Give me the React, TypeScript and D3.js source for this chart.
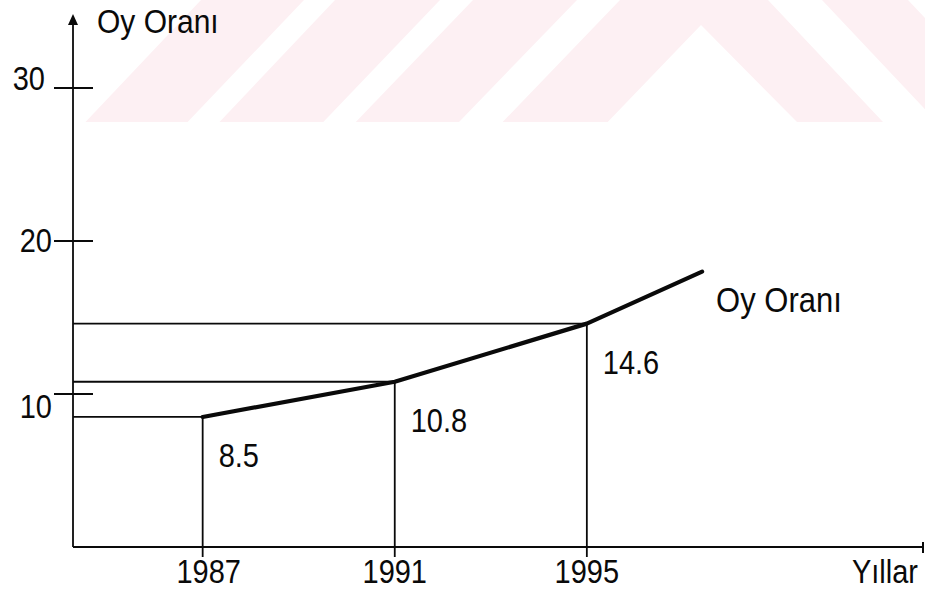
import React from "react";
import * as d3 from "d3";

// ---- data ----
const years = [1987, 1991, 1995];
const voteShare = [8.5, 10.8, 14.6];
const trendEnd = { year: 1997.4, value: 18 };
const yTicks = [10, 20, 30];
const yAxisTitle = "Oy Oranı";
const seriesLabel = "Oy Oranı";
const xAxisTitle = "Yıllar";

// ---- layout / style ----
const W = 925;
const H = 592;
const FONT = "'Liberation Sans', Arial, Helvetica, sans-serif";
const INK = "#0a0a0a";
const PINK = "#fdf0f3";
const tickLabelNudge = [24, 11, 2]; // baseline offsets for 10, 20, 30
const yearLabelNudge = [6, 0, 0];
const STRETCH = 1.12; // scanned type is taller than it is wide

// faint background watermark of the scanned page (decorative)
const watermark = [
  "85.5,122 187.6,122 304,0 201,0",
  "219.5,122 323.3,122 440,0 335,0",
  "355.8,122 459,122 577,0 473,0",
  "502.6,122 620,0 768,0 883,122 797,122 701,25 607.7,122",
  "822,0 908,0 1023,122 937,122",
];

function T(props: {
  x: number;
  y: number;
  size: number;
  anchor?: "start" | "middle" | "end";
  children: React.ReactNode;
}) {
  return (
    <text
      transform={`translate(${props.x},${props.y}) scale(1,${STRETCH})`}
      fontSize={props.size}
      textAnchor={props.anchor || "start"}
      fill={INK}
    >
      {props.children}
    </text>
  );
}

export default function App() {
  const x = d3.scaleLinear().domain([1984.3, 2002]).range([73, 923]);
  const y = d3.scaleLinear().domain([0, 30]).range([547, 88]);

  const pts = years.map((yr, i) => ({ year: yr, value: voteShare[i] }));
  const linePts = [...pts, trendEnd];
  const line = d3
    .line<{ year: number; value: number }>()
    .x((d) => x(d.year))
    .y((d) => y(d.value));

  const x0 = x.range()[0];
  const x1 = x.range()[1];
  const yBase = y(0);
  const yTop = 14;

  return (
    <svg
      width={W}
      height={H}
      viewBox={`0 0 ${W} ${H}`}
      style={{ position: "absolute", left: 0, top: 0, display: "block", background: "#fff" }}
      fontFamily={FONT}
    >
      <rect x={0} y={0} width={W} height={H} fill="#fff" />
      <g fill={PINK}>
        {watermark.map((p, i) => (
          <polygon key={i} points={p} />
        ))}
      </g>

      {/* y axis with arrow */}
      <line x1={x0} x2={x0} y1={yTop + 8} y2={yBase} stroke={INK} strokeWidth={1.8} />
      <polygon
        points={`${x0},${yTop} ${x0 - 5},${yTop + 11} ${x0 + 5},${yTop + 11}`}
        fill={INK}
      />
      <T x={x0 + 24} y={33} size={30}>
        {yAxisTitle}
      </T>

      {/* y ticks */}
      {yTicks.map((t, i) => (
        <g key={t}>
          <line x1={x0 - 19} x2={x0 + 20} y1={y(t)} y2={y(t)} stroke={INK} strokeWidth={2} />
          <T x={i === 2 ? x0 - 28 : x0 - 21} y={y(t) + tickLabelNudge[i]} size={29} anchor="end">
            {t}
          </T>
        </g>
      ))}

      {/* x axis */}
      <line x1={x0} x2={x1} y1={yBase} y2={yBase} stroke={INK} strokeWidth={2} />
      <line x1={x1} x2={x1} y1={yBase - 5} y2={yBase + 6} stroke={INK} strokeWidth={2} />
      <T x={x1 - 5} y={583} size={29} anchor="end">
        {xAxisTitle}
      </T>

      {/* reference lines */}
      {pts.map((d) => (
        <g key={d.year} stroke={INK} strokeWidth={1.8}>
          <line x1={x0} x2={x(d.year)} y1={y(d.value)} y2={y(d.value)} />
          <line x1={x(d.year)} x2={x(d.year)} y1={y(d.value)} y2={yBase + 10} />
        </g>
      ))}

      {/* year labels */}
      {pts.map((d, i) => (
        <T key={d.year} x={x(d.year) + yearLabelNudge[i]} y={583} size={29} anchor="middle">
          {d.year}
        </T>
      ))}

      {/* main line */}
      <path
        d={line(linePts) || ""}
        fill="none"
        stroke={INK}
        strokeWidth={4.2}
        strokeLinejoin="round"
        strokeLinecap="round"
      />

      {/* value labels */}
      {pts.map((d) => (
        <T key={d.year} x={x(d.year) + 16} y={y(d.value) + 50} size={29}>
          {d.value.toFixed(1)}
        </T>
      ))}

      <T x={x(trendEnd.year) + 14} y={y(trendEnd.value) + 40} size={31}>
        {seriesLabel}
      </T>
    </svg>
  );
}
